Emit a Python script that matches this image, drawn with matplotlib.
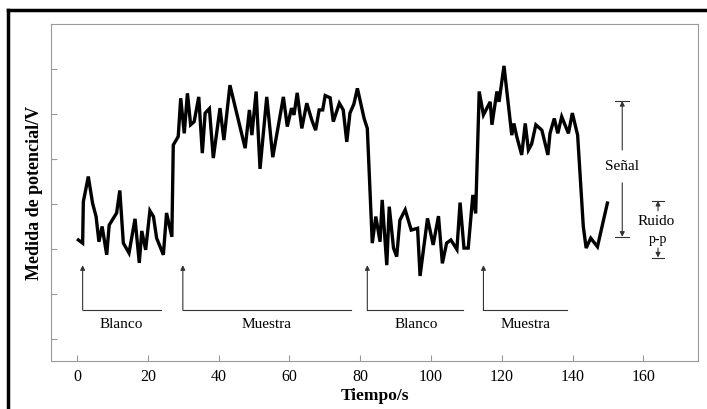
import numpy as np
import matplotlib.pyplot as plt
import matplotlib as mpl
from matplotlib.lines import Line2D
mpl.rcParams["font.family"] = ["Liberation Serif", "DejaVu Serif"]

# data (tiempo in s, potencial in arbitrary units)
tiempo = [0.4, 1.6, 1.8, 3.2, 4.4, 5.4, 6.2, 7.1, 8.4, 9.1, 11.2, 12.1, 13.1, 14.7,
          16.4, 17.6, 18.3, 19.4, 20.6, 21.6, 22.5, 24.4, 25.3, 26.8, 27.2, 28.6,
          29.3, 30.3, 31.2, 32.1, 33.1, 34.4, 35.4, 36.2, 37.4, 38.5, 40.4, 41.5,
          43.2, 47.5, 48.7, 49.4, 50.6, 51.7, 53.6, 55.3, 58.3, 59.4, 60.6, 61.3,
          62.2, 63.5, 64.9, 66.3, 67.4, 68.4, 69.4, 70.1, 71.5, 72.4, 74.1, 75.2,
          76.2, 77.1, 78.2, 79.2, 81.1, 82.0, 83.4, 84.4, 85.6, 86.2, 87.5, 88.2,
          89.4, 90.3, 91.2, 92.7, 94.4, 96.2, 96.9, 99.0, 100.6, 102.1, 103.2,
          104.4, 105.6, 107.3, 108.2, 109.3, 110.5, 111.8, 112.6, 113.6, 114.8,
          116.7, 117.2, 118.6, 119.2, 120.6, 122.8, 123.4, 124.2, 125.6, 126.6,
          127.5, 128.4, 129.6, 131.3, 133.0, 133.6, 134.8, 135.8, 136.9, 138.8,
          139.9, 141.4, 143.0, 143.8, 145.1, 147.0, 149.8]
potencial = [3.20, 3.13, 4.05, 4.61, 4.02, 3.72, 3.16, 3.50, 2.87, 3.53, 3.80, 4.30,
             3.13, 2.91, 3.67, 2.69, 3.40, 2.98, 3.85, 3.72, 3.24, 2.87, 3.80, 3.27,
             5.31, 5.50, 6.35, 5.57, 6.46, 5.76, 5.83, 6.38, 5.13, 6.02, 6.12, 5.02,
             6.13, 5.42, 6.64, 5.24, 6.09, 5.53, 6.50, 4.78, 6.38, 5.04, 6.38, 5.72,
             6.13, 5.98, 6.47, 5.68, 6.24, 5.87, 5.64, 6.09, 6.09, 6.41, 6.36, 5.83,
             6.24, 6.09, 5.38, 6.02, 6.22, 6.57, 5.90, 5.68, 3.13, 3.72, 3.16, 4.09,
             2.64, 3.94, 3.02, 2.83, 3.64, 3.87, 3.42, 3.46, 2.40, 3.68, 3.09, 3.73,
             2.68, 3.13, 3.20, 2.99, 4.03, 3.02, 3.02, 4.20, 3.79, 6.50, 5.98, 6.27,
             5.76, 6.50, 6.27, 7.07, 5.53, 5.79, 5.50, 5.09, 5.79, 5.20, 5.33, 5.76,
             5.64, 5.09, 5.57, 5.90, 5.57, 5.94, 5.57, 6.02, 5.53, 3.50, 3.02, 3.24,
             3.05, 4.02]

# brackets under the trace: label, start, end
tramos = ["Blanco", "Muestra", "Blanco", "Muestra"]
tramo_ini = [1.6, 29.9, 82.0, 114.8]
tramo_fin = [23.7, 77.3, 109.1, 138.5]
tramo_txt = [12.6, 53.6, 95.9, 126.7]

# signal and noise reference levels
senal_alto, senal_bajo = 6.29, 3.27
ruido_alto, ruido_bajo = 4.07, 2.81

fig = plt.figure(figsize=(7.07, 4.09), dpi=100)
ax = fig.add_axes([0.0721, 0.1174, 0.9152, 0.8239])

ax.plot(tiempo, potencial, color="black", lw=2.4, solid_joinstyle="miter")

ax.set_xlim(-7.34, 175.4)
ax.set_ylim(0.51, 8.0)
ax.set_xticks(np.arange(0, 161, 20))
ax.set_yticks(np.arange(1, 8))
ax.set_yticklabels([])
ax.tick_params(direction="in", length=4, color="#999999", labelsize=11.5, pad=6)
for s in ax.spines.values():
    s.set_color("#9a9a9a")
    s.set_linewidth(0.8)

ax.set_xlabel("Tiempo/s", fontsize=12.5, fontweight="bold", labelpad=2)
ax.set_ylabel("Medida de potencial/V", fontsize=13, fontweight="bold", labelpad=0)

# Blanco / Muestra brackets
arr = dict(arrowstyle="-|>", lw=0.8, color="#333333", mutation_scale=7, shrinkA=0, shrinkB=0)
for lab, x0, x1, xt in zip(tramos, tramo_ini, tramo_fin, tramo_txt):
    ax.annotate("", xy=(x0, 2.64), xytext=(x0, 1.64), arrowprops=arr)
    ax.plot([x0, x1], [1.64, 1.64], color="#333333", lw=0.8)
    ax.text(xt, 1.33, lab, ha="center", va="center", fontsize=11)

# Senal
ax.plot([152, 156], [senal_alto, senal_alto], color="#333333", lw=0.8)
ax.plot([152, 156], [senal_bajo, senal_bajo], color="#333333", lw=0.8)
ax.annotate("", xy=(154, senal_alto), xytext=(154, 5.2), arrowprops=arr)
ax.annotate("", xy=(154, senal_bajo), xytext=(154, 4.47), arrowprops=arr)
ax.text(154, 4.83, "Señal", ha="center", va="center", fontsize=11)

# Ruido p-p
ax.plot([162.3, 165.9], [ruido_alto, ruido_alto], color="#333333", lw=0.8)
ax.plot([162.3, 165.9], [ruido_bajo, ruido_bajo], color="#333333", lw=0.8)
ax.annotate("", xy=(164.1, ruido_alto), xytext=(164.1, 3.85), arrowprops=arr)
ax.annotate("", xy=(164.1, ruido_bajo), xytext=(164.1, 3.02), arrowprops=arr)
ax.text(163.6, 3.61, "Ruido", ha="center", va="center", fontsize=11)
ax.text(164.1, 3.2, "p-p", ha="center", va="center", fontsize=10)

# thick frame of the scanned figure (top and left edges)
fig.add_artist(Line2D([0.011, 1.0], [0.975, 0.975], color="black", lw=2.5, transform=fig.transFigure))
fig.add_artist(Line2D([0.011, 0.011], [0.0, 0.975], color="black", lw=2.5, transform=fig.transFigure))

fig.savefig("out.png", dpi=100)
